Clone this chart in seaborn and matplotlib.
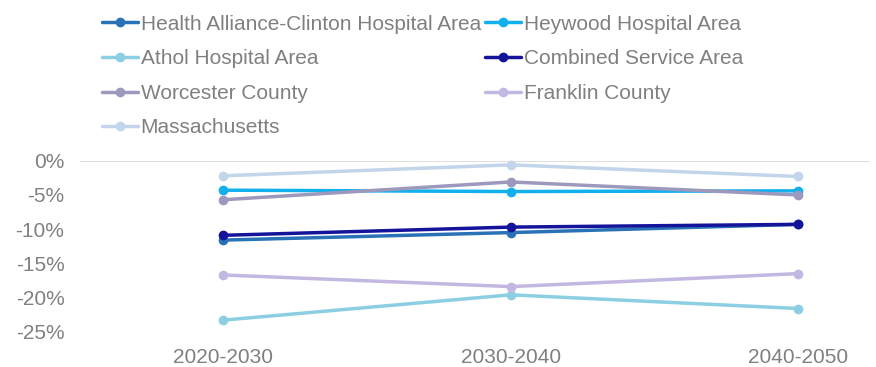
import matplotlib
matplotlib.use("Agg")
import matplotlib.pyplot as plt
import seaborn as sns
import pandas as pd

periods = ["2020-2030", "2030-2040", "2040-2050"]

health_alliance = [-11.6, -10.5, -9.3]
heywood = [-4.3, -4.5, -4.4]
athol = [-23.3, -19.6, -21.6]
combined = [-10.9, -9.7, -9.3]
worcester = [-5.7, -3.1, -5.0]
franklin = [-16.7, -18.4, -16.5]
massachusetts = [-2.2, -0.6, -2.3]

series = {
    "Health Alliance-Clinton Hospital Area": health_alliance,
    "Heywood Hospital Area": heywood,
    "Athol Hospital Area": athol,
    "Combined Service Area": combined,
    "Worcester County": worcester,
    "Franklin County": franklin,
    "Massachusetts": massachusetts,
}
colors = ["#2a72b8", "#12b0ec", "#8ccfe2", "#14149a", "#9d99bd", "#c2b8e2", "#c2d5ea"]

rows = []
for name, vals in series.items():
    for p, v in zip(periods, vals):
        rows.append({"Area": name, "Period": p, "Change": v})
df = pd.DataFrame(rows)

sns.set_theme(style="white")
plt.rcParams["font.family"] = ["Liberation Sans", "DejaVu Sans"]
txt = "#808080"

fig = plt.figure(figsize=(8.76, 3.67), dpi=100)
ax = fig.add_axes([0.091, 0.096, 0.902, 0.466])

sns.lineplot(data=df, x="Period", y="Change", hue="Area", palette=colors,
             marker="o", markersize=7, markeredgewidth=0, linewidth=2.5,
             sort=False, ax=ax, legend=True)
for ln in ax.lines:
    ln.set_clip_on(False)

ax.set_xlim(-0.5, 2.25)
ax.set_ylim(-25, 0)
ax.set_yticks([0, -5, -10, -15, -20, -25])
ax.set_yticklabels(["0%", "-5%", "-10%", "-15%", "-20%", "-25%"])
ax.axhline(0, color="#d9d9d9", linewidth=1.2, zorder=0)
for s in ax.spines.values():
    s.set_visible(False)
ax.tick_params(axis="both", colors=txt, labelsize=15, length=0, pad=12)
ax.tick_params(axis="y", pad=11)
ax.set_xlabel("")
ax.set_ylabel("")

handles, labels = ax.get_legend_handles_labels()
ax.get_legend().remove()
order = [0, 2, 4, 6, 1, 3, 5]
leg = fig.legend([handles[i] for i in order], [labels[i] for i in order],
                 ncol=2, loc="upper left", bbox_to_anchor=(0.1, 1.0),
                 frameon=False, fontsize=15, handlelength=1.7, handletextpad=0.15,
                 columnspacing=0.2, labelspacing=0.75, borderaxespad=0.3)
for t in leg.get_texts():
    t.set_color(txt)

fig.savefig("out.png", dpi=100, facecolor="white")
